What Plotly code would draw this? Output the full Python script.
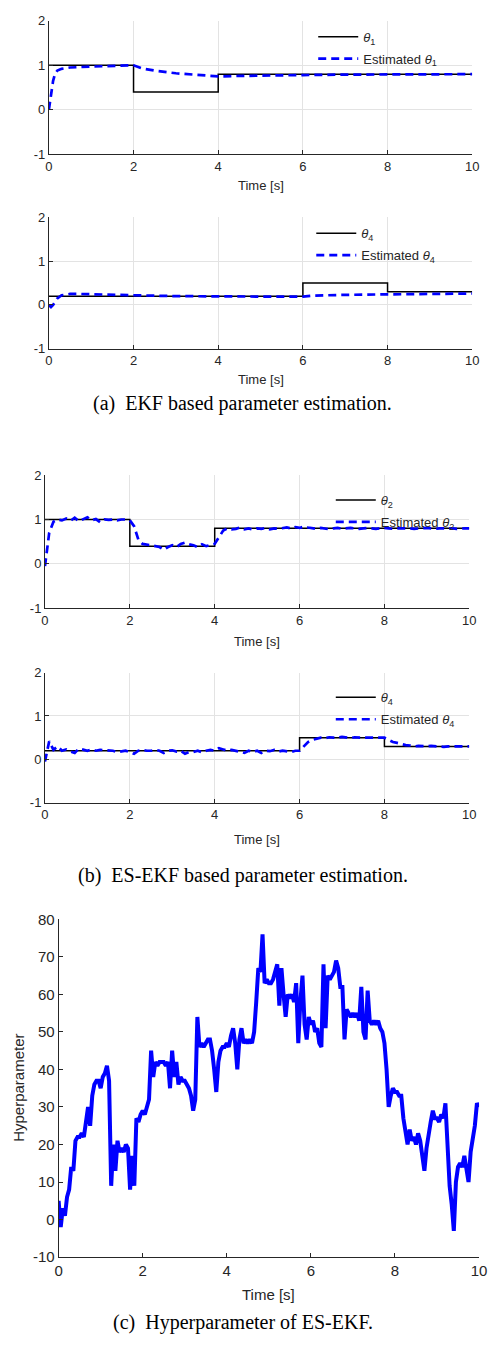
import numpy as np
import plotly.graph_objects as go

W, H = 489, 1349

# ---------------- data ----------------
# (a) EKF
t_true_1 = [0, 2, 4, 10]
theta1_true = [1.0, 0.4, 0.8, 0.8]
t_ekf_1 = [0, 0.05, 0.1, 0.15, 0.2, 0.3, 0.5, 1.0, 1.5, 2.0, 2.2, 2.5, 3.0, 3.5, 4.0, 4.5, 5, 6, 7, 8, 9, 10]
theta1_ekf = [0.0, 0.35, 0.65, 0.82, 0.88, 0.92, 0.95, 0.97, 0.98, 1.0, 0.93, 0.88, 0.82, 0.78, 0.75, 0.76,
              0.77, 0.78, 0.79, 0.79, 0.8, 0.8]

t_true_4 = [0, 6, 8, 10]
theta4_true = [0.2, 0.5, 0.3, 0.3]
t_ekf_4 = [0, 0.05, 0.1, 0.2, 0.3, 0.5, 0.7, 1, 2, 3, 4, 5, 6, 6.2, 7, 8, 9, 10]
theta4_ekf = [0.0, -0.05, 0.0, 0.15, 0.22, 0.25, 0.25, 0.24, 0.22, 0.2, 0.19, 0.19, 0.19, 0.21, 0.23, 0.24,
              0.25, 0.26]

# (b) ES-EKF (sampled every 0.1 s)
t_es = np.round(np.arange(0, 10.001, 0.1), 1)
theta2_es = [-0.05, 0.7, 0.95, 1.0, 0.98, 1.02, 0.97, 1.04, 0.96, 1.0,
             1.05, 0.98, 1.01, 0.94, 1.0, 0.99, 1.0, 0.98, 1.0, 1.0,
             0.98, 0.85, 0.55, 0.45, 0.44, 0.42, 0.4, 0.38, 0.32, 0.38,
             0.42, 0.38, 0.45, 0.48, 0.44, 0.42, 0.38, 0.44, 0.4, 0.42,
             0.45, 0.6, 0.75, 0.8, 0.78, 0.79, 0.82, 0.78, 0.8, 0.77,
             0.8, 0.79, 0.81, 0.78, 0.8, 0.79, 0.8, 0.82, 0.8, 0.83,
             0.81, 0.84, 0.82, 0.8, 0.79, 0.81, 0.8, 0.78, 0.8, 0.81,
             0.79, 0.8, 0.81, 0.8, 0.79, 0.8, 0.81, 0.8, 0.79, 0.8,
             0.81, 0.8, 0.79, 0.8, 0.8, 0.81, 0.8, 0.79, 0.8, 0.8,
             0.81, 0.8, 0.79, 0.8, 0.8, 0.81, 0.8, 0.79, 0.8, 0.8, 0.8]
theta4_es = [-0.05, 0.42, 0.22, 0.3, 0.2, 0.23, 0.18, 0.15, 0.25, 0.22,
             0.2, 0.23, 0.2, 0.22, 0.21, 0.2, 0.2, 0.17, 0.19, 0.2,
             0.17, 0.13, 0.2, 0.22, 0.2, 0.2, 0.22, 0.2, 0.15, 0.2,
             0.21, 0.18, 0.2, 0.13, 0.17, 0.17, 0.2, 0.16, 0.2, 0.22,
             0.2, 0.26, 0.23, 0.2, 0.22, 0.2, 0.18, 0.15, 0.2, 0.17,
             0.2, 0.15, 0.2, 0.19, 0.22, 0.18, 0.2, 0.18, 0.17, 0.2,
             0.2, 0.3, 0.4, 0.45, 0.48, 0.5, 0.49, 0.51, 0.5, 0.5,
             0.52, 0.5, 0.49, 0.51, 0.5, 0.5, 0.5, 0.5, 0.51, 0.5,
             0.5, 0.45, 0.4, 0.38, 0.35, 0.33, 0.32, 0.3, 0.31, 0.3,
             0.3, 0.31, 0.3, 0.3, 0.29, 0.3, 0.3, 0.31, 0.3, 0.3, 0.3]

# (c) hyperparameter (sampled every 0.05 s)
t_hp = np.round(np.arange(0, 10.0001, 0.05), 2)
hyper = [5, -2, 3, 1, 6, 8, 14, 13, 21, 22,
         22, 23, 22, 26, 30, 25, 33, 36, 37, 37,
         35, 38, 39, 41, 37, 9, 20, 13, 21, 18,
         19, 18, 20, 19, 8, 17, 9, 27, 26, 28,
         29, 28, 30, 32, 45, 38, 42, 41, 42, 42,
         42, 41, 42, 35, 45, 38, 42, 36, 38, 37,
         37, 36, 35, 33, 29, 32, 54, 46, 47, 46,
         47, 48, 48, 45, 40, 34, 42, 45, 46, 46,
         47, 46, 49, 51, 47, 40, 48, 51, 47, 48,
         47, 48, 47, 50, 58, 67, 66, 76, 63, 64,
         63, 63, 64, 66, 68, 57, 67, 60, 54, 60,
         59, 60, 58, 63, 47, 58, 65, 52, 48, 54,
         52, 53, 50, 51, 47, 46, 68, 51, 65, 64,
         65, 66, 69, 67, 62, 62, 48, 56, 55, 54,
         55, 54, 55, 53, 62, 50, 48, 61, 53, 52,
         53, 52, 53, 51, 50, 47, 40, 30, 33, 35,
         34, 34, 33, 33, 27, 23, 20, 24, 21, 22,
         20, 23, 21, 17, 13, 19, 23, 26, 29, 27,
         27, 26, 28, 27, 31, 17, 9, 4, -3, 10,
         14, 15, 14, 17, 13, 10, 18, 22, 25, 31, 30]

x_ticks = [0, 2, 4, 6, 8, 10]
theta_ticks = [-1, 0, 1, 2]
theta_ticklabels = ["-1", "0", "1", "2"]
hyper_ticks = [-10, 0, 10, 20, 30, 40, 50, 60, 70, 80]
hyper_ticklabels = ["-10", "0", "10", "20", "30", "40", "50", "60", "70", "80"]

# ---------------- figure ----------------
fig = go.Figure()
BLUE = "#0000ff"
TXT = "#262626"
GRID = "#e3e3e3"
FONT = "Liberation Sans, Arial, sans-serif"
SERIF = "Liberation Serif, Times New Roman, serif"
DASH = "8px,5px"


def yf(p):
    return 1 - p / H


def xf(p):
    return p / W


# panel geometry (pixels)
panels = [
    dict(x=(46, 480), y=(12, 147), leg_top=13, leg_left=317, title_y=179, fs=13),
    dict(x=(46, 480), y=(211, 344), leg_top=212, leg_left=315, title_y=375, fs=13),
    dict(x=(42, 477), y=(472, 607), leg_top=482, leg_left=335, title_y=641, fs=13),
    dict(x=(42, 477), y=(672, 804), leg_top=682, leg_left=335, title_y=841, fs=13),
    dict(x=(56, 487), y=(922, 1264), leg_top=None, leg_left=None, title_y=1302, fs=15),
]

series = [
    (t_true_1, theta1_true, t_ekf_1, theta1_ekf, "1"),
    (t_true_4, theta4_true, t_ekf_4, theta4_ekf, "4"),
    (t_true_1, theta1_true, t_es, theta2_es, "2"),
    (t_true_4, theta4_true, t_es, theta4_es, "4"),
]

for i, (tt, vt, te, ve, sub) in enumerate(series):
    n = i + 1
    xa = "x" if n == 1 else f"x{n}"
    ya = "y" if n == 1 else f"y{n}"
    lg = "legend" if n == 1 else f"legend{n}"
    fig.add_trace(go.Scatter(x=tt, y=vt, mode="lines", line=dict(color="black", width=1.5, shape="hv"),
                             name=f"<i>θ</i><sub>{sub}</sub>", legendgroup=f"a{n}",
                             xaxis=xa, yaxis=ya, legend=lg))
    fig.add_trace(go.Scatter(x=te, y=ve, mode="lines", line=dict(color=BLUE, width=2.7, dash=DASH),
                             name=f"Estimated <i>θ</i><sub>{sub}</sub>", legendgroup=f"b{n}",
                             xaxis=xa, yaxis=ya, legend=lg))

fig.add_trace(go.Scatter(x=t_hp, y=hyper, mode="lines", line=dict(color=BLUE, width=4),
                         showlegend=False, xaxis="x5", yaxis="y5"))

layout = dict(width=W, height=H, margin=dict(l=0, r=0, t=0, b=0),
              paper_bgcolor="white", plot_bgcolor="white",
              font=dict(family=FONT, size=13, color=TXT))

annotations = []
for idx, p in enumerate(panels):
    n = idx + 1
    xk = "xaxis" if n == 1 else f"xaxis{n}"
    yk = "yaxis" if n == 1 else f"yaxis{n}"
    grid = n <= 4
    x0, x1 = p["x"]
    y0, y1 = p["y"]
    layout[xk] = dict(domain=[xf(x0), xf(x1)], range=[0, 10], anchor=("y" if n == 1 else f"y{n}"),
                      tickvals=x_ticks, ticks="inside", ticklen=4, tickcolor=TXT,
                      showline=True, linecolor=TXT, linewidth=1, showgrid=grid, gridcolor=GRID,
                      zeroline=False, tickfont=dict(size=p["fs"], color=TXT),
                      ticklabeloverflow="allow")
    if n <= 4:
        yr, yt, ytt = [-1, 2], theta_ticks, theta_ticklabels
    else:
        yr, yt, ytt = [-10, 80], hyper_ticks, hyper_ticklabels
    layout[yk] = dict(domain=[yf(y1), yf(y0)], range=yr, anchor=("x" if n == 1 else f"x{n}"),
                      tickvals=yt, ticktext=ytt, ticks="inside", ticklen=4, tickcolor=TXT,
                      showline=True, linecolor=TXT, linewidth=1, showgrid=grid, gridcolor=GRID,
                      zeroline=False, tickfont=dict(size=p["fs"], color=TXT))
    if p["leg_top"] is not None:
        lg = "legend" if n == 1 else f"legend{n}"
        layout[lg] = dict(x=xf(p["leg_left"]), y=yf(p["leg_top"]), xanchor="left", yanchor="top",
                          bgcolor="rgba(0,0,0,0)", borderwidth=0, itemwidth=40,
                          font=dict(size=13, color=TXT), tracegroupgap=2)
    annotations.append(dict(text="Time [s]", x=xf((x0 + x1) / 2), y=yf(p["title_y"]),
                            xref="paper", yref="paper", xanchor="center", yanchor="middle",
                            showarrow=False, font=dict(size=p["fs"], color=TXT)))

annotations.append(dict(text="Hyperparameter", x=xf(15), y=yf(1093), xref="paper", yref="paper",
                        xanchor="center", yanchor="middle", textangle=-90, showarrow=False,
                        font=dict(size=15, color=TXT)))

captions = [
    ("(a)  EKF based parameter estimation.", 400),
    ("(b)  ES-EKF based parameter estimation.", 878),
    ("(c)  Hyperparameter of ES-EKF.", 1330),
]
for text, ypx in captions:
    annotations.append(dict(text=text, x=xf(245), y=yf(ypx), xref="paper", yref="paper",
                            xanchor="center", yanchor="middle", showarrow=False,
                            font=dict(family=SERIF, size=20, color="black")))
layout["annotations"] = annotations

fig.update_layout(**layout)
fig.write_html("out.html", config={"displayModeBar": False},
               post_script="document.body.style.margin='0';document.body.style.overflow='hidden';")
